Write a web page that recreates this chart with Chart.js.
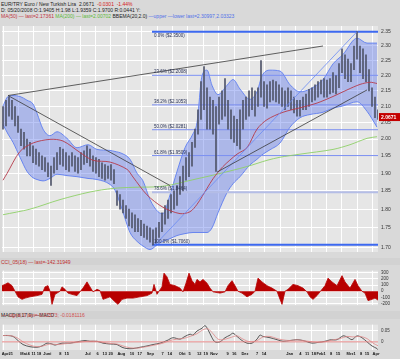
<!DOCTYPE html>
<html>
<head>
<meta charset="utf-8">
<script src="https://cdn.jsdelivr.net/npm/chart.js@4.4.1/dist/chart.umd.min.js"></script>
<style>
body { margin: 0; background: #d9d9d9; width: 400px; height: 359px; overflow: hidden; position: relative; font-family: "Liberation Sans", Arial, sans-serif; }
.txt { position: absolute; left: 1px; font-size: 5px; line-height: 6px; white-space: nowrap; color: #222; }
.strip { position: absolute; left: 0; width: 400px; background: #d2d2d2; }
.strip span { position: absolute; left: 1px; font-size: 5px; line-height: 6px; white-space: nowrap; }
canvas { position: absolute; left: 0; }
</style>
</head>
<body>
<div class="txt" style="top:1px">EUR/TRY Euro / New Turkish Lira &nbsp;2.0671 &nbsp;<span style="color:#d42020">-0.0301 &nbsp;-1.44%</span></div>
<div class="txt" style="top:7px">D: 05/20/2008 O:1.9405 H:1.98 L:1.9359 C:1.9700 R:0.0441 Y:</div>
<div class="txt" style="top:13px"><span style="color:#c03440">MA(50) — last=2.17361</span> <span style="color:#5cb838">MA(200) — last=2.00702</span> BBEMA(20,2.0) <span style="color:#5070e8">—upper —lower last=2.30997,2.03323</span></div>
<canvas id="mainChart" width="400" height="238" style="top:20px"></canvas>
<div class="strip" style="top:258px;height:7px"><span style="top:1px;color:#c03030">CCI_05(18) — last=-142.31949</span></div>
<canvas id="cciChart" width="400" height="46" style="top:265px"></canvas>
<div class="strip" style="top:311px;height:8px"><span style="top:1px;color:#222">MACD(8,17,9) —MACD <span style="color:#d05050">— signal 0 last=-0.03573; -0.0181116</span></span></div>
<canvas id="macdChart" width="400" height="40" style="top:319px"></canvas>
<script>
// price bars, one every 3 days (low / high)
const priceLow = [2.03,2.04,2.07,2.06,2.04,2.02,1.98,1.97,1.95,1.95,1.93,1.925,1.92,1.91,1.905,1.89,1.865,1.90,1.91,1.925,
  1.92,1.91,1.905,1.92,1.905,1.90,1.91,1.925,1.93,1.92,1.905,1.90,1.89,1.885,1.88,1.885,1.88,1.87,1.81,1.80,
  1.79,1.775,1.755,1.75,1.74,1.74,1.73,1.725,1.72,1.713,1.706,1.71,1.725,1.74,1.76,1.775,1.79,1.80,1.81,1.84,
  1.85,1.88,1.89,1.92,1.975,2.015,2.06,2.09,2.03,2.03,2.015,1.905,2.045,2.06,2.07,2.03,2.00,1.99,1.98,1.97,
  2.03,2.06,2.07,2.09,2.07,2.10,2.13,2.10,2.095,2.115,2.12,2.115,2.11,2.10,2.09,2.10,2.09,2.08,2.07,2.07,
  2.09,2.09,2.10,2.115,2.12,2.13,2.14,2.13,2.13,2.14,2.145,2.14,2.16,2.21,2.19,2.18,2.18,2.22,2.255,2.21,
  2.19,2.18,2.15,2.10,2.065,2.06];
const priceHigh = [2.10,2.12,2.13,2.12,2.10,2.07,2.03,2.02,2.00,1.99,1.98,1.97,1.96,1.95,1.945,1.93,1.92,1.945,1.96,1.975,
  1.97,1.96,1.95,1.96,1.95,1.945,1.96,1.965,1.98,1.97,1.95,1.945,1.94,1.93,1.925,1.92,1.925,1.91,1.85,1.84,
  1.825,1.81,1.80,1.79,1.785,1.775,1.77,1.76,1.755,1.75,1.745,1.75,1.765,1.79,1.81,1.825,1.84,1.85,1.865,1.89,
  1.92,1.945,1.96,1.99,2.03,2.09,2.18,2.23,2.16,2.13,2.12,2.10,2.13,2.15,2.19,2.12,2.09,2.07,2.06,2.09,
  2.12,2.13,2.15,2.16,2.15,2.16,2.25,2.18,2.17,2.18,2.185,2.18,2.17,2.16,2.15,2.16,2.15,2.13,2.12,2.12,
  2.13,2.14,2.155,2.16,2.17,2.18,2.185,2.19,2.185,2.19,2.21,2.20,2.24,2.29,2.27,2.255,2.24,2.30,2.35,2.30,
  2.29,2.27,2.22,2.16,2.13,2.09];
const priceStep = 3;

// Bollinger band (EMA 20, 2.0)
const bandDays = [0,5,10,17,24,30,34,40,47,54,64,74,85,94,107,112,119,127,134,140,147,155,160,167,174,182,190,194,199,204,
  209,215,224,230,237,247,254,259,267,277,287,297,307,320,330,340,354,364,374];
const bandUpper = [2.102,2.132,2.135,2.132,2.12,2.108,2.079,2.030,2.010,2.022,2.002,1.974,1.983,1.969,1.966,1.963,1.957,1.940,1.900,1.878,
  1.826,1.793,1.788,1.839,1.905,1.974,2.016,2.050,2.199,2.218,2.168,2.138,2.168,2.187,2.156,2.123,2.147,2.199,2.218,2.215,
  2.17,2.147,2.156,2.187,2.239,2.271,2.327,2.310,2.310];
const bandLower = [2.044,2.015,1.99,1.946,1.905,1.887,1.882,1.878,1.885,1.897,1.893,1.890,1.885,1.882,1.868,1.852,1.800,1.738,1.715,1.703,
  1.694,1.708,1.715,1.722,1.730,1.735,1.738,1.738,1.738,1.738,1.75,1.79,1.845,1.87,1.89,1.924,1.94,1.953,1.968,1.988,
  2.036,2.065,2.075,2.082,2.095,2.102,2.115,2.085,2.036];

const ma50Days = [0,4,17,30,47,60,77,90,107,124,130,144,160,177,187,194,204,210,220,234,244,254,264,280,297,314,330,344,357,367,374];
const ma50 = [1.88,1.899,1.963,1.988,1.999,1.994,1.960,1.937,1.932,1.911,1.889,1.839,1.805,1.788,1.793,1.813,1.857,1.884,1.919,1.955,
  1.974,2.030,2.059,2.082,2.096,2.111,2.132,2.153,2.171,2.178,2.174];
const ma200Days = [0,27,57,87,110,130,160,194,214,244,264,277,297,330,347,364,374];
const ma200 = [1.785,1.800,1.826,1.847,1.857,1.860,1.863,1.884,1.897,1.919,1.937,1.946,1.955,1.969,1.983,2.002,2.007];

// trend lines [day, price]
const trendUpper = [[5, 2.135], [320, 2.30]];
const trendDown = [[5, 2.135], [167, 1.865]];
const trendRise = [[214, 1.903], [364, 2.153]];
const fibDiagonal = [[152, 1.706], [354, 2.35]];

const fibStart = 149;
const fibPct = ['0.0%', '23.6%', '38.2%', '50.0%', '61.8%', '78.6%', '100.0%'];
const fibValues = [2.35, 2.2008, 2.1053, 2.0281, 1.9509, 1.8464, 1.706];

const lastPrice = 2.0671;
const priceTicks = [1.70,1.75,1.80,1.85,1.90,1.95,2.00,2.05,2.10,2.15,2.20,2.25,2.30,2.35];

// CCI(18)
const cciDays = [-1,2,5,9,12,15,19,22,27,34,39,42,45,47,49,52,57,59,62,65,69,74,77,80,84,87,90,94,97,100,
  107,112,115,119,124,130,137,144,149,151,154,156,159,161,164,167,172,177,180,183,186,189,192,194,197,200,204,207,210,217,
  222,225,229,232,235,239,244,249,252,255,259,264,269,274,277,279,282,285,290,295,300,304,307,310,314,317,322,325,329,334,
  339,342,347,352,355,359,362,365,369,372,375];
const cci = [90,110,135,90,0,-90,-130,-110,-90,-70,-50,70,90,0,-210,-50,0,70,30,-30,-50,-70,-10,50,150,70,-10,30,10,-130,
  -90,-170,-210,-130,-110,-110,-90,-70,-30,110,-50,0,70,290,230,110,90,50,-10,130,290,170,110,190,150,190,130,50,-10,-30,
  -10,90,170,90,0,-30,-90,-50,0,210,150,90,50,0,-130,-210,0,30,110,90,50,-10,-90,-130,-70,-10,90,210,150,90,
  250,150,50,190,90,0,-30,-150,-130,-110,-142];
const cciTicks = [-200,-100,0,100,200,300];

// MACD(8,17,9)
const macdDays = [0,5,10,15,20,27,34,39,44,49,52,59,67,74,82,87,94,100,107,114,119,124,130,137,144,150,157,164,170,177,
  182,187,190,194,199,202,205,209,212,217,222,227,230,234,239,244,249,254,257,260,267,274,280,287,294,300,309,315,322,327,
  334,340,344,349,354,359,364,369,374,375];
const macd = [0.029,0.029,0.025,0.006,-0.0125,-0.0225,-0.025,-0.019,-0.006,-0.01,-0.015,-0.006,-0.006,0,0.006,0.0025,0.0025,-0.006,-0.01,-0.0125,
  -0.025,-0.031,-0.031,-0.025,-0.019,-0.0125,-0.006,0.006,0.019,0.0125,0.025,0.035,0.031,0.05,0.0625,0.075,0.056,0.019,0,0,
  0.019,0.031,0.04,0.025,0.006,-0.006,-0.006,0.0125,0.031,0.025,0.019,0.01,0.0025,0.006,0.01,0.006,-0.006,-0.0025,0.0025,0.009,
  0.01,0.0275,0.0225,0.01,0.0275,0.019,0,-0.019,-0.031,-0.036];
const signalDays = [0,7,14,20,27,34,40,47,54,60,67,75,84,94,100,107,114,120,127,134,140,147,154,160,167,174,180,187,194,200,
  205,210,215,220,227,234,240,247,254,260,267,274,280,287,294,300,309,317,324,330,337,344,350,357,364,370,375];
const signal = [0.029,0.029,0.019,0,-0.015,-0.0225,-0.019,-0.01,-0.0125,-0.01,-0.006,-0.0025,0.0025,0.0025,-0.0025,-0.0075,-0.01,-0.019,-0.0275,-0.029,
  -0.025,-0.019,-0.0125,-0.006,0.006,0.0125,0.015,0.025,0.0375,0.056,0.06,0.0375,0.0125,0.01,0.019,0.0275,0.0125,0,0.006,0.0225,
  0.025,0.015,0.009,0.006,0.009,0.006,0,-0.0025,0.0025,0.009,0.015,0.025,0.0225,0.025,0.015,-0.006,-0.018];
const macdTicks = [0, 0.05];

// date axis
const dateTickDays = [4.3,20.7,25.5,30.5,36,44.3,57.3,63.8,84.8,94.7,101.7,107.7,118.3,129,136.7,147.3,159.7,166.7,179.2,186.7,
  196.3,202.7,211,224.7,231.3,242,254,261,286.7,297.3,304,310.7,317,321.7,328,335,347,351.7,358,364,373];
const dateTickLabels = ['Apr21','Mai','4','11','18','Juni','8','15','Jul','6','13','20','Aug','10','17','Sep','7','14','Okt','5',
  '12','19','Nov','9','16','Dez','7','14','Jan','4','11','18','Feb','1','8','15','Mrz','1','8','15','Apr'];

const dayMin = -1, dayMax = 375;
const gridStep = 15.4;

Chart.defaults.animation = false;
Chart.defaults.font.family = '"Liberation Sans", Arial, sans-serif';
Chart.defaults.plugins.legend.display = false;
Chart.defaults.plugins.tooltip.enabled = false;

const pts = (xs, ys) => xs.map((x, i) => ({ x: x, y: ys[i] }));
const pairPts = arr => arr.map(p => ({ x: p[0], y: p[1] }));

function gridTicks(scale) {
    const t = [];
    for (let v = 0; v <= dayMax; v += gridStep) t.push({ value: v });
    scale.ticks = t;
}

const plotBg = {
    id: 'plotBg',
    beforeDraw(chart) {
        const { ctx, chartArea: a } = chart;
        ctx.save();
        ctx.fillStyle = '#e6e6e6';
        ctx.fillRect(a.left, a.top, a.right - a.left, a.bottom - a.top);
        ctx.restore();
    }
};

const fibText = {
    id: 'fibText',
    afterDatasetsDraw(chart) {
        const { ctx, chartArea } = chart;
        const xs = chart.scales.x, ys = chart.scales.y;
        ctx.save();
        ctx.font = '4.5px "Liberation Sans", Arial';
        ctx.fillStyle = '#2a3358';
        const x = xs.getPixelForValue(fibStart) + 2;
        fibValues.forEach((v, i) => {
            const y = ys.getPixelForValue(v);
            const label = `${fibPct[i]} ($${v.toFixed(4)})`;
            if (y - 6 < chartArea.top) {
                ctx.textBaseline = 'top';
                ctx.fillText(label, x, y + 1.5);
            } else {
                ctx.textBaseline = 'bottom';
                ctx.fillText(label, x, y - 1);
            }
        });
        ctx.restore();
    }
};

const lastBox = {
    id: 'lastBox',
    afterDraw(chart) {
        const { ctx, chartArea } = chart;
        const y = chart.scales.y.getPixelForValue(lastPrice);
        ctx.save();
        ctx.fillStyle = '#c40000';
        ctx.fillRect(chartArea.right + 1, y - 4, 21, 8);
        ctx.fillStyle = '#ffffff';
        ctx.font = 'bold 5px "Liberation Sans", Arial';
        ctx.textBaseline = 'middle';
        ctx.fillText(lastPrice.toFixed(4), chartArea.right + 3, y + 0.5);
        ctx.restore();
    }
};

const rightAxis = (extra) => Object.assign({
    position: 'right',
    grid: { color: '#ffffff', lineWidth: 1, drawTicks: false },
    border: { display: false },
    afterFit: s => { s.width = 22; }
}, extra);

const gridX = {
    type: 'linear', min: dayMin, max: dayMax, offset: false,
    grid: { color: '#ffffff', lineWidth: 1, drawTicks: false, offset: false },
    border: { display: false },
    ticks: { display: false },
    afterBuildTicks: gridTicks,
    afterFit: s => { s.height = 0; }
};

// main price panel
const fibSets = fibValues.map((v, i) => {
    const strong = i === 0 || i === fibValues.length - 1;
    return {
        type: 'line', data: [{ x: fibStart, y: v }, { x: dayMax, y: v }],
        borderColor: strong ? '#3d69f0' : (i === 5 ? '#b4bde6' : '#7a8ef0'),
        borderWidth: strong || i === 5 ? 2 : 1, pointRadius: 0, order: 4
    };
});

new Chart(document.getElementById('mainChart'), {
    type: 'line',
    data: {
        datasets: [
            { type: 'line', data: pts(bandDays, bandUpper), borderColor: '#5f7ff0', borderWidth: 0.9,
              backgroundColor: 'rgba(92,118,236,0.42)', fill: '+1', pointRadius: 0, cubicInterpolationMode: 'monotone', order: 6 },
            { type: 'line', data: pts(bandDays, bandLower), borderColor: '#5f7ff0', borderWidth: 0.9,
              fill: false, pointRadius: 0, cubicInterpolationMode: 'monotone', order: 6 },
            ...fibSets,
            { type: 'line', data: pts(ma200Days, ma200), borderColor: '#8fd068', borderWidth: 0.9, pointRadius: 0, tension: 0.3, order: 3 },
            { type: 'bar', data: priceLow.map((l, i) => ({ x: i * priceStep, y: [l, priceHigh[i]] })),
              backgroundColor: '#50556a', barThickness: 1, order: 2 },
            { type: 'line', data: pts(ma50Days, ma50), borderColor: '#b53a4a', borderWidth: 0.9, pointRadius: 0, tension: 0.3, order: 1 },
            { type: 'line', data: pairPts(trendUpper), borderColor: '#3a3a3a', borderWidth: 0.8, pointRadius: 0, order: 0 },
            { type: 'line', data: pairPts(trendDown), borderColor: '#3a3a3a', borderWidth: 0.8, pointRadius: 0, order: 0 },
            { type: 'line', data: pairPts(trendRise), borderColor: '#3a3a3a', borderWidth: 0.8, pointRadius: 0, order: 0 },
            { type: 'line', data: pairPts(fibDiagonal), borderColor: '#6a8af5', borderWidth: 0.8, pointRadius: 0, order: 0 }
        ]
    },
    options: {
        responsive: false,
        devicePixelRatio: 1,
        layout: { padding: { left: 2, right: 0, top: 0, bottom: 0 } },
        scales: {
            x: gridX,
            y: rightAxis({
                type: 'logarithmic', min: 1.6878, max: 2.3701,
                afterBuildTicks: s => { s.ticks = priceTicks.map(v => ({ value: v })); },
                ticks: { autoSkip: false, font: { size: 5 }, color: '#333', padding: 3, callback: v => Number(v).toFixed(2) }
            })
        }
    },
    plugins: [plotBg, fibText, lastBox]
});

// CCI panel
new Chart(document.getElementById('cciChart'), {
    type: 'line',
    data: {
        datasets: [{
            data: pts(cciDays, cci), borderColor: '#b80000', borderWidth: 0.8,
            backgroundColor: '#b80000', fill: 'origin', pointRadius: 0, tension: 0
        }]
    },
    options: {
        responsive: false,
        devicePixelRatio: 1,
        layout: { padding: { left: 2, right: 0, top: 0, bottom: 0 } },
        scales: {
            x: gridX,
            y: rightAxis({
                min: -225, max: 329,
                afterBuildTicks: s => { s.ticks = cciTicks.map(v => ({ value: v })); },
                ticks: { autoSkip: false, font: { size: 4.5 }, color: '#333', padding: 3 }
            })
        }
    },
    plugins: [plotBg]
});

// MACD panel
new Chart(document.getElementById('macdChart'), {
    type: 'line',
    data: {
        datasets: [
            { data: [{ x: dayMin, y: 0 }, { x: dayMax, y: 0 }], borderColor: '#e07a7a', borderWidth: 0.9, pointRadius: 0 },
            { data: pts(signalDays, signal), borderColor: '#e08a8a', borderWidth: 0.8, pointRadius: 0, tension: 0.3 },
            { data: pts(macdDays, macd), borderColor: '#333333', borderWidth: 0.8, pointRadius: 0, tension: 0.3 }
        ]
    },
    options: {
        responsive: false,
        devicePixelRatio: 1,
        layout: { padding: { left: 2, right: 0, top: 0, bottom: 0 } },
        scales: {
            x: gridX,
            xl: {
                type: 'linear', position: 'bottom', min: dayMin, max: dayMax, offset: false,
                grid: { display: false, drawTicks: false },
                border: { display: false },
                afterBuildTicks: s => { s.ticks = dateTickDays.map(v => ({ value: v })); },
                ticks: {
                    autoSkip: false, maxRotation: 0, minRotation: 0, padding: 1,
                    font: { size: 4, weight: 'bold' },
                    color: '#111',
                    callback: (v, i) => dateTickLabels[i]
                },
                afterFit: s => { s.height = 9; }
            },
            y: rightAxis({
                min: -0.0376, max: 0.079,
                afterBuildTicks: s => { s.ticks = macdTicks.map(v => ({ value: v })); },
                ticks: { autoSkip: false, font: { size: 4.5 }, color: '#333', padding: 3, callback: v => (v === 0 ? '0' : v.toFixed(2)) }
            })
        }
    },
    plugins: [plotBg]
});
</script>
</body>
</html>
